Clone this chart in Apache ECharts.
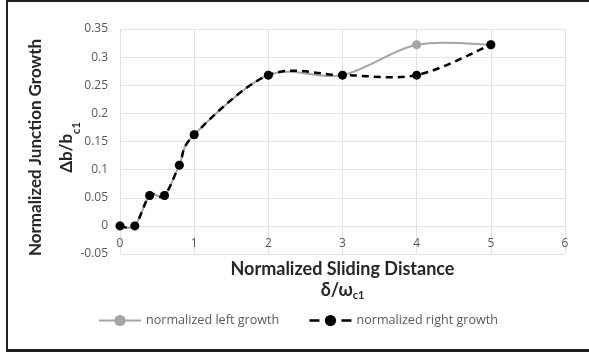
<!DOCTYPE html>
<html>
<head>
<meta charset="utf-8">
<script src="https://cdn.jsdelivr.net/npm/echarts@6/dist/echarts.min.js"></script>
<style>
  html, body { margin: 0; padding: 0; background: #fff; }
  .wrap { position: relative; width: 589px; height: 356px; }
  .main { width: 589px; height: 356px; }
  .frame {
    position: absolute; left: 6px; top: 0; width: 581px; height: 347px;
    border-top: 2px solid #231f20; border-left: 2px solid #231f20; border-bottom: 3px solid #231f20;
    pointer-events: none;
  }
</style>
</head>
<body>
<div class="wrap">
  <div class="main"></div>
  <div class="frame"></div>
</div>
<script>
// sliding distance (δ/ωc1)
var distance = [0, 0.2, 0.4, 0.6, 0.8, 1, 2, 3, 4, 5];
// junction growth (Δb/bc1)
var leftGrowth = [0, 0, 0.054, 0.054, 0.108, 0.162, 0.268, 0.268, 0.322, 0.322];
var rightGrowth = [0, 0, 0.054, 0.054, 0.108, 0.162, 0.268, 0.268, 0.268, 0.322];
var seriesNames = ['normalized left growth', 'normalized right growth'];

var leftColor = '#a5a5a5';
var rightColor = '#000';

function pairs(xs, ys) {
  return xs.map(function (x, i) { return [x, ys[i]]; });
}

// excel style smoothed line: bezier through the points, controls from neighbours
function smoothCurve(ys, style) {
  return function (params, api) {
    if (params.dataIndex !== 0) return;
    var pts = distance.map(function (x, i) { return api.coord([x, ys[i]]); });
    var d = 'M' + pts[0][0] + ',' + pts[0][1];
    for (var i = 0; i < pts.length - 1; i++) {
      var p0 = pts[i - 1] || pts[i];
      var p1 = pts[i];
      var p2 = pts[i + 1];
      var p3 = pts[i + 2] || pts[i + 1];
      var c1x = p1[0] + (p2[0] - p0[0]) / 6, c1y = p1[1] + (p2[1] - p0[1]) / 6;
      var c2x = p2[0] - (p3[0] - p1[0]) / 6, c2y = p2[1] - (p3[1] - p1[1]) / 6;
      d += ' C' + c1x + ',' + c1y + ' ' + c2x + ',' + c2y + ' ' + p2[0] + ',' + p2[1];
    }
    return {
      type: 'path',
      shape: { pathData: d },
      style: Object.assign({ fill: 'none' }, style)
    };
  };
}

var titleFont = 'Lato';
var font = 'Open Sans';
function titleRich(size, lh, subLh) {
  return {
    t: { fontFamily: titleFont, fontSize: size, fontWeight: 'bold', color: '#262626', lineHeight: lh },
    s: { fontFamily: titleFont, fontSize: 11, fontWeight: 'bold', color: '#262626', verticalAlign: 'bottom', lineHeight: subLh }
  };
}

var myChart = echarts.init(document.querySelector('.main'));
myChart.setOption({
  backgroundColor: '#fff',
  animation: false,
  textStyle: { fontFamily: font },
  grid: { left: 120, right: 24, top: 29, bottom: 102 },
  legend: {
    data: [{
      name: seriesNames[0],
      lineStyle: { color: leftColor, width: 2, type: 'solid', opacity: 1 }
    }, {
      name: seriesNames[1],
      lineStyle: { color: rightColor, width: 2.5, type: [10, 6], opacity: 1 }
    }],
    top: 309,
    left: 93,
    itemWidth: 42,
    itemHeight: 14,
    itemGap: 29,
    textStyle: { color: '#595959', fontSize: 12.6, fontFamily: font }
  },
  xAxis: {
    type: 'value',
    min: 0,
    max: 6,
    interval: 1,
    axisLine: { show: false },
    axisTick: { show: false },
    axisLabel: { color: '#595959', fontSize: 12, margin: -16 },
    splitLine: { show: true, lineStyle: { color: '#e3e3e3' } },
    name: '{t|Normalized Sliding Distance}\n{t|δ/ω}{s|c1}',
    nameLocation: 'middle',
    nameGap: 5,
    nameMoveOverlap: false,
    nameTextStyle: { lineHeight: 21, rich: titleRich(18, 21, 14) }
  },
  yAxis: {
    type: 'value',
    min: -0.05,
    max: 0.35,
    interval: 0.05,
    axisLine: { show: false },
    axisTick: { show: false },
    axisLabel: {
      color: '#595959', fontSize: 12, margin: 12,
      formatter: function (v) { return String(+v.toFixed(2)); }
    },
    splitLine: { show: true, lineStyle: { color: '#e3e3e3' } },
    name: '{t|Normalized Junction Growth}\n{t|Δb/b}{s|c1}',
    nameLocation: 'middle',
    nameGap: 38,
    nameMoveOverlap: false,
    nameTextStyle: { lineHeight: 31, padding: [0, 12, 0, 0], rich: titleRich(17, 31, 22) }
  },
  series: [{
    type: 'custom',
    renderItem: smoothCurve(leftGrowth, { stroke: leftColor, lineWidth: 2 }),
    data: pairs(distance, leftGrowth),
    encode: { x: 0, y: 1 },
    silent: true,
    z: 1
  }, {
    name: seriesNames[0],
    type: 'line',
    symbol: 'circle',
    symbolSize: 9,
    itemStyle: { color: leftColor },
    lineStyle: { width: 0, opacity: 0 },
    data: pairs(distance, leftGrowth),
    z: 2
  }, {
    type: 'custom',
    renderItem: smoothCurve(rightGrowth, { stroke: rightColor, lineWidth: 2.5, lineDash: [7, 5] }),
    data: pairs(distance, rightGrowth),
    encode: { x: 0, y: 1 },
    silent: true,
    z: 3
  }, {
    name: seriesNames[1],
    type: 'line',
    symbol: 'circle',
    symbolSize: 9,
    itemStyle: { color: rightColor },
    lineStyle: { width: 0, opacity: 0 },
    data: pairs(distance, rightGrowth),
    z: 4
  }]
});
</script>
</body>
</html>
